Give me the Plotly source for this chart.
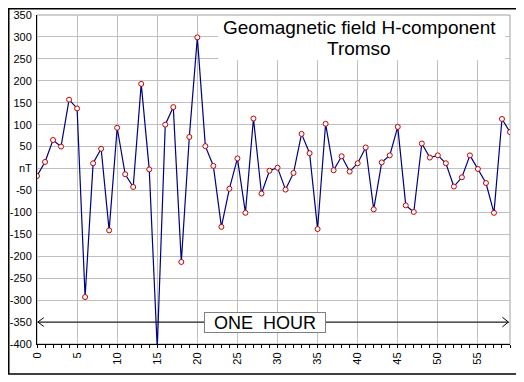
import plotly.graph_objects as go

minutes = list(range(60))
h_component = [-17, 15, 65, 50, 157, 137, -293, 12, 45, -141,
               93, -13, -42, 193, -2, -410, 100, 140, -213, 72,
               299, 51, 6, -133, -46, 23, -101, 114, -57, -5,
               2, -48, -10, 79, 35, -138, 102, -4, 28, -7,
               12, 48, -93, 14, 30, 95, -84, -99, 57, 25,
               30, 12, -41, -20, 30, -1, -33, -101, 113, 83]

y_tick_vals = [350, 300, 250, 200, 150, 100, 50, 0, -50, -100, -150, -200, -250, -300, -350, -400]
y_tick_text = ["350", "300", "250", "200", "150", "100", "50", "nT", "-50", "-100", "-150",
               "-200", "-250", "-300", "-350", "-400"]
x_tick_vals = list(range(0, 60, 5))
x_tick_text = [str(v) for v in x_tick_vals]

title_line1 = "Geomagnetic field H-component"
title_line2 = "Tromso"
span_label = "ONE  HOUR"
span_start, span_end, span_level = 0.1, 58.8, -350
span_center = 28.5

FONT = "Liberation Sans, Arial, sans-serif"

fig = go.Figure()
fig.add_trace(go.Scatter(
    x=minutes, y=h_component, mode="lines+markers",
    line=dict(color="#000080", width=1.2),
    marker=dict(symbol="circle", size=5, color="white",
                line=dict(color="#c00000", width=1)),
    hoverinfo="skip", showlegend=False,
))

shapes = [
    # plot frame
    dict(type="rect", xref="paper", yref="paper", x0=0, x1=1, y0=0, y1=1,
         line=dict(color="#a0a0a0", width=1), layer="below"),
    # outer frame
    dict(type="rect", xref="paper", yref="paper", x0=-0.0597, x1=1.019, y0=-0.0912, y1=1.019,
         line=dict(color="black", width=1.5), layer="above"),
    # title box
    dict(type="rect", xref="paper", yref="paper", x0=0.3827, x1=0.9894, y0=0.8632, y1=0.997,
         fillcolor="white", line=dict(width=0), layer="above"),
    # hour arrow
    dict(type="line", xref="x", yref="y", x0=span_start, x1=span_end, y0=span_level, y1=span_level,
         line=dict(color="black", width=1), layer="above"),
    dict(type="path", xref="x", yref="y",
         path=f"M {span_start+0.75},{span_level+10} L {span_start},{span_level} L {span_start+0.75},{span_level-10}",
         line=dict(color="black", width=1), layer="above"),
    dict(type="path", xref="x", yref="y",
         path=f"M {span_end-0.75},{span_level+11} L {span_end},{span_level} L {span_end-0.75},{span_level-11}",
         line=dict(color="black", width=1), layer="above"),
]

annotations = [
    dict(text=title_line1, xref="paper", yref="paper", x=0.6818, y=0.9605,
         xanchor="center", yanchor="middle", showarrow=False,
         font=dict(family=FONT, size=19, color="black")),
    dict(text=title_line2, xref="paper", yref="paper", x=0.6818, y=0.8967,
         xanchor="center", yanchor="middle", showarrow=False,
         font=dict(family=FONT, size=19, color="black")),
    dict(text=span_label, xref="x", yref="y", x=span_center, y=span_level,
         xanchor="center", yanchor="middle", showarrow=False,
         bgcolor="white", bordercolor="#808080", borderwidth=1, borderpad=0,
         width=120, height=19,
         font=dict(family=FONT, size=18, color="black")),
]

fig.update_layout(
    width=516, height=374,
    margin=dict(l=29, r=14, t=7, b=38),
    paper_bgcolor="white", plot_bgcolor="white",
    font=dict(family=FONT, size=11, color="black"),
    shapes=shapes, annotations=annotations,
    xaxis=dict(range=[0, 59], tickvals=x_tick_vals, ticktext=x_tick_text,
               tickangle=-90, showgrid=True, gridcolor="#c0c0c0", gridwidth=1,
               zeroline=False, showline=True, linecolor="black", linewidth=1,
               ticks="outside", ticklen=3, tickcolor="black",
               minor=dict(dtick=1, ticks="outside", ticklen=3, tickcolor="black", showgrid=False),
               tickfont=dict(size=11), automargin=False),
    yaxis=dict(range=[-400, 350], tickvals=y_tick_vals, ticktext=y_tick_text,
               showgrid=True, gridcolor="#c0c0c0", gridwidth=1,
               zeroline=False, showline=True, linecolor="black", linewidth=1,
               ticks="", ticklabelstandoff=2, tickfont=dict(size=11), automargin=False),
)

fig.write_html("out.html")
